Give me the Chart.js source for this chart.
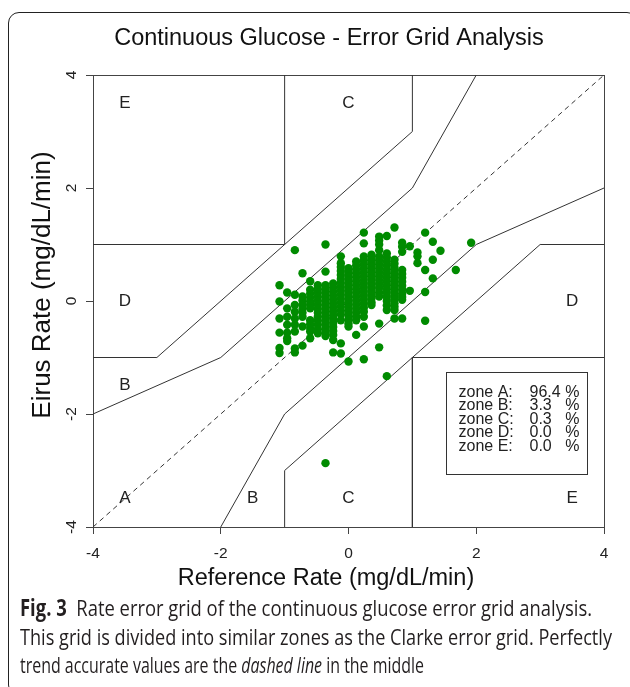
<!DOCTYPE html>
<html>
<head>
<meta charset="utf-8">
<script src="https://cdn.jsdelivr.net/npm/chart.js@4.4.1/dist/chart.umd.min.js"></script>
<style>
  html, body { margin: 0; padding: 0; background: #fff; }
  body { width: 630px; height: 687px; position: relative; overflow: hidden; }
  #frame { position: absolute; left: 8px; top: 12px; width: 630px; height: 684px;
           border: 1.5px solid #222; border-radius: 11px; box-sizing: border-box; }
  #chartBox { position: absolute; left: 0; top: 0; width: 630px; height: 595px; }
  .cap { position: absolute; left: 20px; white-space: nowrap; font-family: "Open Sans", sans-serif;
         font-size: 22.5px; line-height: 28px; color: #231f20; transform-origin: 0 50%; }
  .cap b { font-weight: 700; }
</style>
</head>
<body>
<div id="frame"></div>
<div id="chartBox"><canvas id="gridChart" width="630" height="595"></canvas></div>
<div class="cap" data-end="592" style="top:594px"><b>Fig. 3</b>&nbsp; Rate error grid of the continuous glucose error grid analysis.</div>
<div class="cap" data-end="612" style="top:623px">This grid is divided into similar zones as the Clarke error grid. Perfectly</div>
<div class="cap" data-end="424" style="top:651px">trend accurate values are the <i>dashed line</i> in the middle</div>

<script>
// Reference rate of each vertical strip of readings (mg/dL/min)
const stripRefRates = [-1.08, -0.96, -0.84, -0.72, -0.60, -0.48, -0.36, -0.24, -0.12, 0.00, 0.12, 0.24,
                       0.36, 0.48, 0.60, 0.72, 0.84, 0.96, 1.08, 1.20, 1.32, 1.44, 1.68, 1.92];

// Eirus rates, one list per strip above
const stripEirusRates = [
  [0.28, -0.01, -0.31, -0.56, -0.83, -0.92],
  [0.15, -0.13, -0.28, -0.42, -0.56, -0.66, -0.71],
  [0.90, 0.11, -0.07, -0.19, -0.31, -0.42, -0.54, -0.84, -0.91],
  [0.49, 0.08, 0.01, -0.07, -0.14, -0.21, -0.28, -0.45, -0.79],
  [0.35, 0.20, 0.13, 0.06, -0.01, -0.07, -0.13, -0.34, -0.41, -0.48, -0.54, -0.66],
  [0.28, 0.21, 0.14, 0.07, 0.00, -0.07, -0.14, -0.21, -0.28, -0.35, -0.42, -0.50, -0.57],
  [1.00, 0.52, 0.28, 0.21, 0.14, 0.07, 0.00, -0.07, -0.14, -0.21, -0.28, -0.35, -0.42, -0.49, -0.56, -0.62, -2.87],
  [0.31, 0.24, 0.17, 0.10, 0.03, -0.04, -0.11, -0.18, -0.25, -0.32, -0.39, -0.46, -0.53, -0.60, -0.69, -0.91],
  [0.79, 0.67, 0.60, 0.53, 0.46, 0.39, 0.32, 0.25, 0.18, 0.11, 0.04, -0.03, -0.10, -0.17, -0.24, -0.34, -0.75, -0.93],
  [0.58, 0.51, 0.44, 0.37, 0.30, 0.23, 0.16, 0.09, 0.02, -0.05, -0.12, -0.19, -0.26, -0.33, -0.40, -0.45, -1.07],
  [0.70, 0.63, 0.56, 0.49, 0.42, 0.35, 0.28, 0.21, 0.14, 0.07, 0.00, -0.07, -0.14, -0.21, -0.28, -0.34, -0.60],
  [1.21, 1.02, 0.79, 0.72, 0.65, 0.58, 0.51, 0.44, 0.37, 0.30, 0.23, 0.16, 0.09, 0.02, -0.05, -0.12, -0.19, -0.28, -0.45, -1.03],
  [0.82, 0.75, 0.68, 0.61, 0.54, 0.47, 0.40, 0.33, 0.26, 0.19, 0.12, 0.05, -0.02, -0.07],
  [1.14, 1.07, 1.00, 0.90, 0.79, 0.72, 0.65, 0.58, 0.51, 0.44, 0.37, 0.30, 0.23, 0.15, 0.08, -0.40, -0.82],
  [1.15, 0.84, 0.77, 0.70, 0.63, 0.56, 0.49, 0.42, 0.35, 0.28, 0.21, 0.14, 0.07, 0.00, -0.08, -0.16, -1.33],
  [1.30, 0.73, 0.66, 0.59, 0.52, 0.45, 0.38, 0.31, 0.24, 0.17, 0.10, 0.03, -0.04, -0.10, -0.16, -0.31],
  [1.03, 0.96, 0.87, 0.55, 0.48, 0.41, 0.34, 0.27, 0.20, 0.13, 0.07, 0.02, -0.31],
  [0.97, 0.18],
  [0.86, 0.79, 0.67],
  [1.21, 0.55, 0.16, -0.35],
  [1.05, 0.73, 0.40],
  [0.89],
  [0.55],
  [1.03]
];

// Zone boundaries of the rate error grid
const upperAB = [[-4, -2], [-2, -1], [1, 2], [2, 4]];
const lowerAB = [[-2, -4], [-1, -2], [2, 1], [4, 2]];
const upperCD = [[-4, -1], [-3, -1], [1, 3], [1, 4]];
const lowerCD = [[-1, -4], [-1, -3], [3, 1], [4, 1]];
const upperE = [[-4, 1], [-1, 1], [-1, 4]];
const lowerE = [[4, -1], [1, -1], [1, -4]];
const identityLine = [[-4, -4], [4, 4]];

const zoneLabels = [
  { text: "E", x: -3.5, y: 3.5 }, { text: "C", x: 0, y: 3.5 },
  { text: "D", x: -3.5, y: 0 }, { text: "D", x: 3.5, y: 0 },
  { text: "B", x: -3.5, y: -1.5 }, { text: "A", x: -3.5, y: -3.5 },
  { text: "B", x: -1.5, y: -3.5 }, { text: "C", x: 0, y: -3.5 },
  { text: "E", x: 3.5, y: -3.5 }
];

const zoneNames = ["A", "B", "C", "D", "E"];
const zonePercents = ["96.4", "3.3", "0.3", "0.0", "0.0"];
const axisTicks = [-4, -2, 0, 2, 4];

const FONT = '"Liberation Sans", Arial, Helvetica, sans-serif';

// flatten strips into scatter points
const readings = [];
stripRefRates.forEach((ref, i) => {
  stripEirusRates[i].forEach(v => readings.push({ x: ref, y: v }));
});

function toPoints(arr) {
  return arr.map(p => ({ x: p[0], y: p[1] }));
}

function boundary(arr, dashed) {
  return {
    data: toPoints(arr),
    showLine: true,
    borderColor: "#333",
    borderWidth: 1,
    borderDash: dashed ? [5, 4] : [],
    pointRadius: 0,
    fill: false,
    order: 1
  };
}

const gridOverlay = {
  id: "gridOverlay",
  beforeDatasetsDraw(chart) {
    const { ctx, chartArea: a } = chart;
    ctx.save();
    ctx.strokeStyle = "#444";
    ctx.lineWidth = 1;
    ctx.strokeRect(Math.round(a.left) + 0.5, Math.round(a.top) + 0.5,
                   Math.round(a.right - a.left), Math.round(a.bottom - a.top));
    ctx.restore();
  },
  afterDatasetsDraw(chart) {
    const { ctx } = chart;
    const xs = chart.scales.x, ys = chart.scales.y;
    ctx.save();
    ctx.fillStyle = "#222";
    ctx.font = "17px " + FONT;
    ctx.textAlign = "center";
    ctx.textBaseline = "middle";
    zoneLabels.forEach(z => {
      ctx.fillText(z.text, xs.getPixelForValue(z.x), ys.getPixelForValue(z.y));
    });

    // summary box
    const l = Math.round(xs.getPixelForValue(1.52)) + 0.5;
    const r = Math.round(xs.getPixelForValue(3.73)) + 0.5;
    const t = Math.round(ys.getPixelForValue(-1.26)) + 0.5;
    const b = Math.round(ys.getPixelForValue(-3.06)) + 0.5;
    ctx.fillStyle = "#fff";
    ctx.fillRect(l, t, r - l, b - t);
    ctx.strokeStyle = "#333";
    ctx.lineWidth = 1;
    ctx.strokeRect(l, t, r - l, b - t);
    ctx.fillStyle = "#222";
    ctx.font = "16px " + FONT;
    ctx.textBaseline = "middle";
    zoneNames.forEach((n, i) => {
      const yy = t + 20 + i * 13.4;
      ctx.textAlign = "left";
      ctx.fillText("zone " + n + ":", l + 12, yy);
      ctx.fillText(zonePercents[i], l + 83, yy);
      ctx.textAlign = "right";
      ctx.fillText("%", l + 133, yy);
    });
    ctx.restore();
  },
  afterDraw(chart) {
    const { ctx } = chart;
    ctx.save();
    ctx.fillStyle = "#111";
    ctx.textAlign = "center";
    ctx.textBaseline = "middle";
    ctx.font = "23.5px " + FONT;
    ctx.fillText("Continuous Glucose - Error Grid Analysis", 329, 39);
    ctx.fillText("Reference Rate (mg/dL/min)", 326, 579);
    ctx.font = "26px " + FONT;
    ctx.translate(43, 285);
    ctx.rotate(-Math.PI / 2);
    ctx.fillText("Eirus Rate (mg/dL/min)", 0, 0);
    ctx.restore();
  }
};

const axisBase = {
  type: "linear",
  min: -4,
  max: 4,
  afterBuildTicks: scale => { scale.ticks = axisTicks.map(v => ({ value: v })); },
  grid: { display: true, drawOnChartArea: false, drawTicks: true, tickLength: 7, color: "#444" },
  border: { display: false }
};

new Chart(document.getElementById("gridChart").getContext("2d"), {
  type: "scatter",
  data: {
    datasets: [
      {
        data: readings,
        backgroundColor: "#008B00",
        borderWidth: 0,
        pointRadius: 4.2,
        order: 0
      },
      boundary(upperAB), boundary(lowerAB), boundary(upperCD), boundary(lowerCD),
      boundary(upperE), boundary(lowerE), boundary(identityLine, true)
    ]
  },
  options: {
    responsive: false,
    animation: false,
    layout: { padding: { left: 0, right: 26, top: 75, bottom: 0 } },
    plugins: { legend: { display: false }, tooltip: { enabled: false }, title: { display: false } },
    scales: {
      x: Object.assign({}, axisBase, {
        afterFit: s => { s.height = 68; },
        ticks: { color: "#222", font: { size: 15.5, family: FONT }, padding: 10, maxRotation: 0, autoSkip: false }
      }),
      y: Object.assign({}, axisBase, {
        afterFit: s => { s.width = 93; },
        ticks: { color: "#222", font: { size: 15.5, family: FONT }, padding: 7, minRotation: 90, maxRotation: 90,
                 crossAlign: "center", autoSkip: false }
      })
    }
  },
  plugins: [gridOverlay]
});

// squeeze each caption line so it ends where the printed line ends
document.querySelectorAll(".cap").forEach(el => {
  const w = el.getBoundingClientRect().width;
  el.style.transform = "scaleX(" + ((parseFloat(el.dataset.end) - 20) / w) + ")";
});
</script>
</body>
</html>
